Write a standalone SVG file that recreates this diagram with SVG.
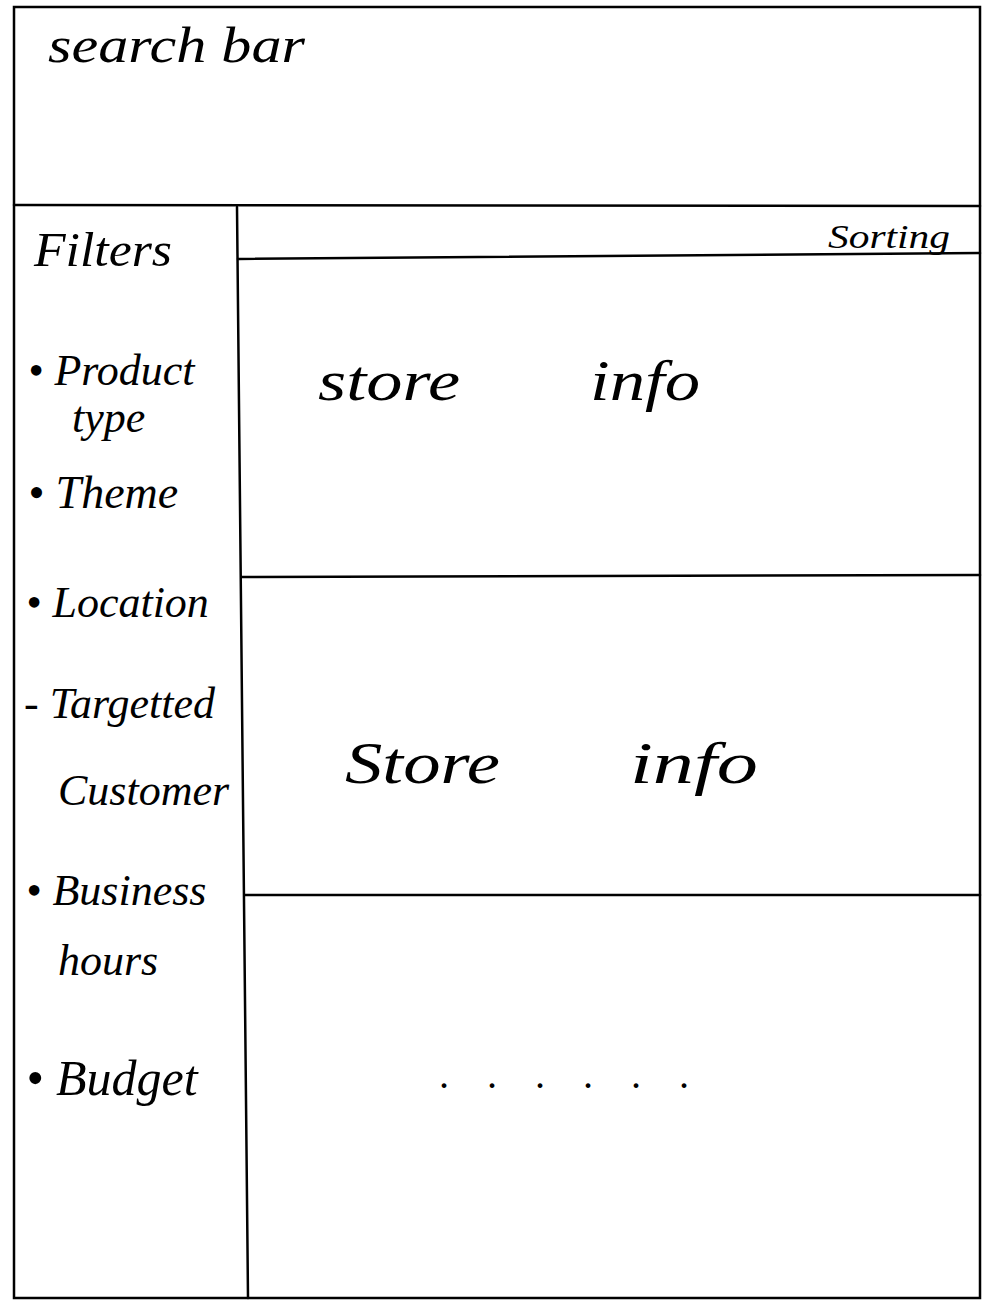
<svg xmlns="http://www.w3.org/2000/svg" width="1004" height="1312" viewBox="0 0 1004 1312">
<style>
.ln{stroke:#000;stroke-width:2.5;fill:none;stroke-linecap:round}
.t{font-family:"Liberation Serif",serif;font-style:italic;fill:#000}
</style>
<rect width="1004" height="1312" fill="#fff"/>
<g id="frame">
<rect class="ln" x="14" y="7" width="966" height="1291"/>
<line class="ln" x1="14" y1="205" x2="980" y2="206"/>
<line class="ln" x1="237" y1="207" x2="248" y2="1298"/>
<line class="ln" x1="238" y1="259" x2="980" y2="253"/>
<line class="ln" x1="242" y1="577" x2="980" y2="575"/>
<line class="ln" x1="245" y1="895" x2="980" y2="895"/>
</g>
<g id="search-bar"><text class="t" x="48" y="62" font-size="50" textLength="257" lengthAdjust="spacingAndGlyphs">search bar</text></g>
<g id="filters">
<text class="t" x="34" y="266" font-size="48" textLength="138" lengthAdjust="spacingAndGlyphs">Filters</text>
<text class="t" x="28" y="385" font-size="44">• Product</text>
<text class="t" x="72" y="432" font-size="44">type</text>
<text class="t" x="28" y="508" font-size="46">• Theme</text>
<text class="t" x="26" y="617" font-size="44">• Location</text>
<text class="t" x="24" y="718" font-size="44">- Targetted</text>
<text class="t" x="58" y="805" font-size="44">Customer</text>
<text class="t" x="26" y="905" font-size="44">• Business</text>
<text class="t" x="58" y="975" font-size="44">hours</text>
<text class="t" x="26" y="1095" font-size="50">• Budget</text>
</g>
<g id="sorting"><text class="t" x="828" y="248" font-size="34" textLength="122" lengthAdjust="spacingAndGlyphs">Sorting</text></g>
<g id="store1">
<text class="t" x="318" y="400" font-size="56" textLength="142" lengthAdjust="spacingAndGlyphs">store</text>
<text class="t" x="590" y="400" font-size="56" textLength="110" lengthAdjust="spacingAndGlyphs">info</text>
</g>
<g id="store2">
<text class="t" x="345" y="783" font-size="60" textLength="155" lengthAdjust="spacingAndGlyphs">Store</text>
<text class="t" x="630" y="783" font-size="60" textLength="128" lengthAdjust="spacingAndGlyphs">info</text>
</g>
<g id="more"><text class="t" x="440" y="1088" font-size="40" letter-spacing="38">......</text></g>
</svg>
